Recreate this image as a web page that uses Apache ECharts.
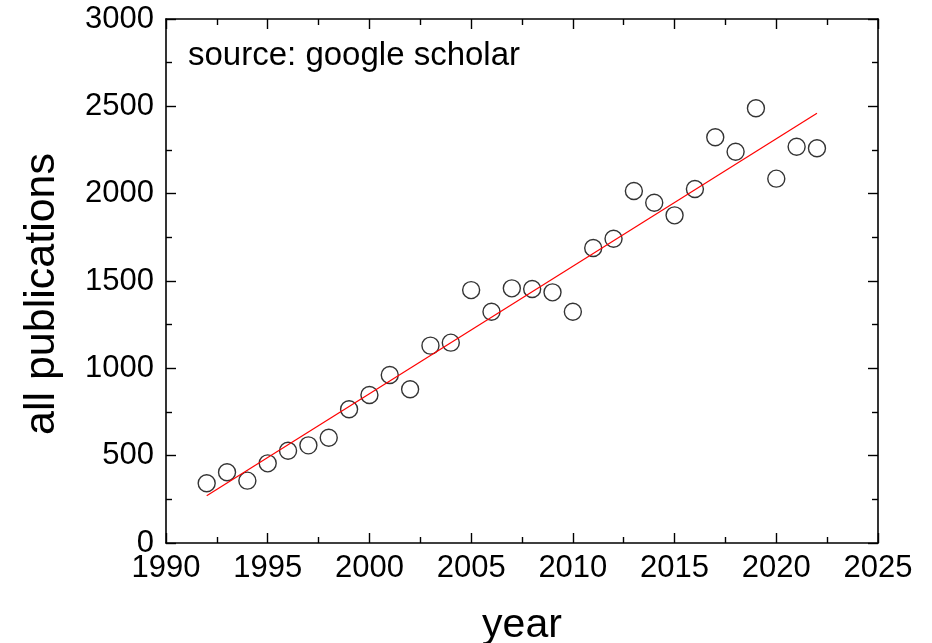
<!DOCTYPE html>
<html>
<head>
<meta charset="utf-8">
<script src="https://cdn.jsdelivr.net/npm/echarts@6/dist/echarts.min.js"></script>
<style>
html,body{margin:0;padding:0;background:#fff;}
#chart{width:932px;height:643px;}
</style>
</head>
<body>
<div id="chart"></div>
<script>
const years = [1992,1993,1994,1995,1996,1997,1998,1999,2000,2001,2002,2003,2004,2005,2006,2007,2008,2009,2010,2011,2012,2013,2014,2015,2016,2017,2018,2019,2020,2021,2022];
const publications = [342,405,357,456,528,559,603,766,847,962,880,1130,1147,1448,1324,1458,1454,1435,1324,1689,1742,2015,1948,1876,2027,2323,2240,2489,2086,2269,2260];
const fitYears = [1992, 2022];
const fitValues = [271, 2460];
const xTicks = [1990,1995,2000,2005,2010,2015,2020,2025];
const yTicks = [0,500,1000,1500,2000,2500,3000];

const FONT = '"Liberation Sans", Arial, sans-serif';
function axisLine(){ return {show:true, onZero:false, lineStyle:{color:'#000', width:1.6}}; }
function tick(){ return {show:true, inside:true, length:10, lineStyle:{color:'#000', width:1.4}}; }
function minor(){ return {show:true, splitNumber:2, length:6, lineStyle:{color:'#000', width:1.4}}; }

const chart = echarts.init(document.getElementById('chart'), null, {renderer:'canvas'});
chart.setOption({
  backgroundColor:'#fff',
  animation:false,
  grid:{left:166, right:54, top:19, bottom:100, containLabel:false, outerBoundsMode:'none'},
  xAxis:[{
    type:'value', min:xTicks[0], max:xTicks[xTicks.length-1], interval:5,
    axisLine:axisLine(), axisTick:tick(), minorTick:minor(), splitLine:{show:false},
    axisLabel:{color:'#000', fontFamily:FONT, fontSize:31, margin:10, formatter:v=>String(v)},
    name:'year', nameLocation:'middle', nameGap:62,
    nameTextStyle:{color:'#000', fontFamily:FONT, fontSize:41}
  },{
    type:'value', position:'top', min:xTicks[0], max:xTicks[xTicks.length-1], interval:5,
    axisLine:axisLine(), axisTick:tick(), minorTick:minor(), splitLine:{show:false},
    axisLabel:{show:false}
  }],
  yAxis:[{
    type:'value', min:yTicks[0], max:yTicks[yTicks.length-1], interval:500,
    axisLine:axisLine(), axisTick:tick(), minorTick:minor(), splitLine:{show:false},
    axisLabel:{color:'#000', fontFamily:FONT, fontSize:31, margin:12, formatter:v=>String(v)}
  },{
    type:'value', position:'right', min:yTicks[0], max:yTicks[yTicks.length-1], interval:500,
    axisLine:axisLine(), axisTick:tick(), minorTick:minor(), splitLine:{show:false},
    axisLabel:{show:false}
  }],
  graphic:[{
    type:'text', left:188, top:39,
    style:{text:'source: google scholar', fill:'#000', font:'33px "Liberation Sans", Arial, sans-serif'}
  },{
    type:'text', x:42, y:294, rotation:Math.PI/2,
    style:{text:'all publications', fill:'#000', font:'43px "Liberation Sans", Arial, sans-serif', align:'center', verticalAlign:'middle'}
  }],
  series:[{
    type:'line',
    data:fitYears.map((x,i)=>[x, fitValues[i]]),
    symbol:'none',
    lineStyle:{color:'#ff0000', width:1.2},
    z:3
  },{
    type:'scatter',
    data:years.map((x,i)=>[x, publications[i]]),
    symbol:'circle', symbolSize:17,
    itemStyle:{color:'rgba(0,0,0,0)', borderColor:'#000', borderWidth:1.4},
    z:2
  }]
});
</script>
</body>
</html>
